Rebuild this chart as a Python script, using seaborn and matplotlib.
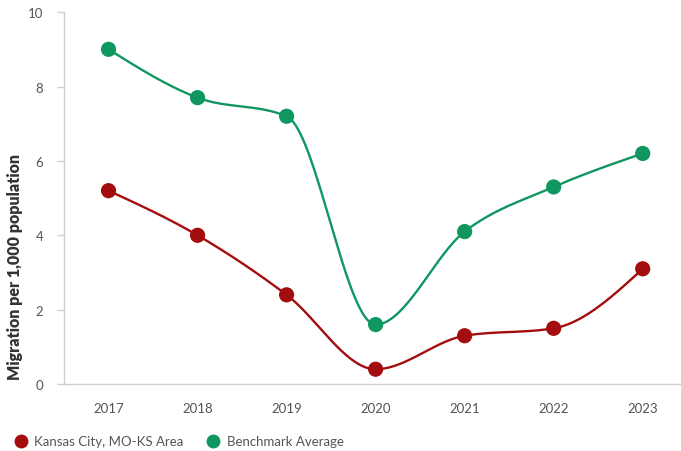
import numpy as np
import pandas as pd
import matplotlib
matplotlib.use("Agg")
import matplotlib.pyplot as plt
import seaborn as sns
from matplotlib.lines import Line2D

years = [2017, 2018, 2019, 2020, 2021, 2022, 2023]
kansas_city = [5.2, 4.0, 2.4, 0.4, 1.3, 1.5, 3.1]
benchmark = [9.0, 7.7, 7.2, 1.6, 4.1, 5.3, 6.2]
series_names = ["Kansas City, MO-KS Area", "Benchmark Average"]
colors = ["#A30D0D", "#109660"]


def monotone_curve(x, y, n=40):
    # d3 curveMonotoneX style (Fritsch-Carlson) rendering of the line between data points
    x = np.asarray(x, float)
    y = np.asarray(y, float)
    h = np.diff(x)
    s = np.diff(y) / h
    t = np.zeros_like(y)
    for i in range(1, len(y) - 1):
        s0, s1 = s[i - 1], s[i]
        p = (s0 * h[i] + s1 * h[i - 1]) / (h[i - 1] + h[i])
        t[i] = (np.sign(s0) + np.sign(s1)) * min(abs(s0), abs(s1), 0.5 * abs(p))
    t[0] = (3 * s[0] - t[1]) / 2
    t[-1] = (3 * s[-1] - t[-2]) / 2
    xs, ys = [], []
    for i in range(len(x) - 1):
        u = np.linspace(0, 1, n)
        h00 = 2 * u**3 - 3 * u**2 + 1
        h10 = u**3 - 2 * u**2 + u
        h01 = -2 * u**3 + 3 * u**2
        h11 = u**3 - u**2
        xs.append(x[i] + u * h[i])
        ys.append(h00 * y[i] + h10 * h[i] * t[i] + h01 * y[i + 1] + h11 * h[i] * t[i + 1])
    return np.concatenate(xs), np.concatenate(ys)


sns.set_theme(style="white")
plt.rcParams["font.family"] = ["Lato", "DejaVu Sans"]

fig = plt.figure(figsize=(6.81, 4.52), dpi=100)
ax = fig.add_axes([0.094, 0.148, 0.906, 0.823])

frames = []
for name, vals in zip(series_names, [kansas_city, benchmark]):
    frames.append(pd.DataFrame({"year": years, "value": vals, "series": name}))
df = pd.concat(frames, ignore_index=True)

for name, col in zip(series_names, colors):
    sub = df[df["series"] == name]
    cx, cy = monotone_curve(sub["year"], sub["value"])
    sns.lineplot(x=cx, y=cy, ax=ax, color=col, linewidth=1.7, sort=False, estimator=None)

sns.scatterplot(data=df, x="year", y="value", hue="series", palette=colors,
                hue_order=series_names, s=120, edgecolor="none", ax=ax,
                legend=False, zorder=5)

ax.set_xlim(2016.5, 2023.43)
ax.set_ylim(0, 10)
ax.set_xticks(years)
ax.set_xticklabels([str(y) for y in years])
ax.set_yticks([0, 2, 4, 6, 8, 10])
ax.set_xlabel("")
ax.set_ylabel("Migration per 1,000 population", fontsize=11.5, fontweight="heavy",
              color="#333333")
ax.yaxis.set_label_coords(-0.066, 0.318)

for side in ["top", "right"]:
    ax.spines[side].set_visible(False)
for side in ["left", "bottom"]:
    ax.spines[side].set_color("#d0d0d0")
    ax.spines[side].set_linewidth(1.0)

ax.tick_params(axis="y", length=5, width=1, color="#d0d0d0", labelsize=9.5,
               labelcolor="#555555", pad=10, left=True)
ax.tick_params(axis="x", length=0, labelsize=9.5, labelcolor="#555555", pad=13)

handles = [Line2D([0], [0], marker="o", color="none", markerfacecolor=c,
                  markeredgecolor="none", markersize=10) for c in colors]
fig.legend(handles, series_names, loc="lower left", bbox_to_anchor=(0.0, -0.018),
           ncol=2, frameon=False, fontsize=9.5, labelcolor="#555555",
           handletextpad=0.3, columnspacing=1.55, handlelength=1.4)

fig.savefig("out.png", dpi=100)
